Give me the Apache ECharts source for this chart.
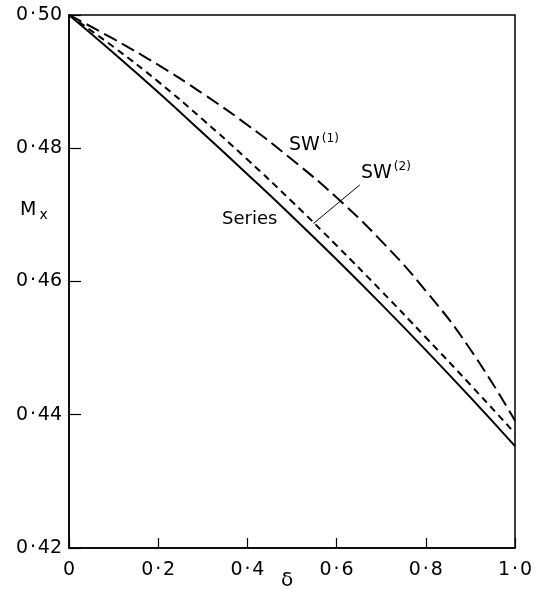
<!DOCTYPE html>
<html>
<head>
<meta charset="utf-8">
<script src="https://cdn.jsdelivr.net/npm/echarts@6/dist/echarts.min.js"></script>
<style>
  html, body { margin: 0; padding: 0; background: #fff; }
  #chart { width: 540px; height: 600px; }
</style>
</head>
<body>
<div id="chart"></div>
<script>
// M_x against delta: series result and the two SW approximations

var deltaValues = [0, 0.1, 0.2, 0.3, 0.4, 0.5, 0.6, 0.7, 0.8, 0.9, 1.0];
var seriesValues = [0.5, 0.4943, 0.4884, 0.4823, 0.4761, 0.4698, 0.4633, 0.4566, 0.4497, 0.4426, 0.4353];
var sw2Values = [0.5, 0.4952, 0.4900, 0.4843, 0.4783, 0.4720, 0.4654, 0.4586, 0.4516, 0.4445, 0.4372];
var sw1Values = [0.5, 0.4964, 0.4925, 0.4882, 0.4835, 0.4783, 0.4726, 0.4661, 0.4586, 0.4498, 0.4391];
var xTicks = [0, 0.2, 0.4, 0.6, 0.8, 1.0];
var yTicks = [0.42, 0.44, 0.46, 0.48, 0.50];

// leader line from the SW(2) curve to its label, in data units
var sw2Leader = [[0.548, 0.4687], [0.652, 0.4745]];

function pairs(xs, ys) {
    return xs.map(function (x, i) { return [x, ys[i]]; });
}

// "0·50" style labels, with a hair of room round the dot
function dotted(s) {
    return s.replace('.', '\u200a\u00b7\u200a');
}

var chart = echarts.init(document.getElementById('chart'));

var font = 'DejaVu Sans';

var option = {
    animation: false,
    grid: {
        left: 69, right: 25, top: 15, bottom: 52,
        show: true,
        borderColor: '#000',
        borderWidth: 1.5
    },
    xAxis: {
        type: 'value',
        min: xTicks[0],
        max: xTicks[xTicks.length - 1],
        interval: 0.2,
        axisLine: { lineStyle: { color: '#000', width: 1.5 } },
        axisTick: { inside: true, length: 10, lineStyle: { color: '#000', width: 1.2 } },
        splitLine: { show: false },
        axisLabel: {
            color: '#000', fontFamily: font, fontSize: 19, margin: 13,
            formatter: function (v) {
                return v === 0 ? '0' : dotted(v.toFixed(1));
            }
        }
    },
    yAxis: {
        type: 'value',
        min: yTicks[0],
        max: yTicks[yTicks.length - 1],
        interval: 0.02,
        axisLine: { lineStyle: { color: '#000', width: 1.5 } },
        axisTick: { inside: true, length: 12, lineStyle: { color: '#000', width: 1.2 } },
        splitLine: { show: false },
        axisLabel: {
            color: '#000', fontFamily: font, fontSize: 19, margin: 7,
            formatter: function (v) {
                return dotted(v.toFixed(2));
            }
        }
    },
    series: [
        {
            name: 'Series',
            type: 'line',
            smooth: true,
            symbol: 'none',
            data: pairs(deltaValues, seriesValues),
            lineStyle: { color: '#000', width: 2 }
        },
        {
            name: 'SW(2)',
            type: 'line',
            smooth: true,
            symbol: 'none',
            data: pairs(deltaValues, sw2Values),
            lineStyle: { color: '#000', width: 2, type: [7, 5] },
            markLine: {
                silent: true,
                symbol: 'none',
                label: { show: false },
                lineStyle: { color: '#000', width: 1, type: 'solid' },
                data: [[{ coord: sw2Leader[0] }, { coord: sw2Leader[1] }]]
            }
        },
        {
            name: 'SW(1)',
            type: 'line',
            smooth: true,
            symbol: 'none',
            data: pairs(deltaValues, sw1Values),
            lineStyle: { color: '#000', width: 2, type: [14, 6] }
        }
    ],
    graphic: [
        {
            type: 'text', left: 20, top: 201,
            style: {
                text: '{m|M}{s|x}',
                rich: {
                    m: { fontFamily: font, fontSize: 19, fill: '#000' },
                    s: { fontFamily: font, fontSize: 14, fill: '#000', verticalAlign: 'bottom', padding: [9, 0, 0, 3] }
                }
            }
        },
        {
            type: 'text', left: 281, top: 571,
            style: { text: '\u03b4', fontFamily: font, fontSize: 20, fill: '#000' }
        },
        {
            type: 'text', left: 222, top: 210,
            style: { text: 'Series', fontFamily: font, fontSize: 18, fill: '#000' }
        },
        {
            type: 'text', left: 289, top: 133,
            style: {
                text: '{a|SW}{b|(1)}',
                rich: {
                    a: { fontFamily: font, fontSize: 19, fill: '#000', padding: [6, 0, 0, 0] },
                    b: { fontFamily: font, fontSize: 12, fill: '#000', padding: [0, 0, 7, 2] }
                }
            }
        },
        {
            type: 'text', left: 361, top: 161,
            style: {
                text: '{a|SW}{b|(2)}',
                rich: {
                    a: { fontFamily: font, fontSize: 19, fill: '#000', padding: [6, 0, 0, 0] },
                    b: { fontFamily: font, fontSize: 12, fill: '#000', padding: [0, 0, 7, 2] }
                }
            }
        }
    ]
};

chart.setOption(option);
</script>
</body>
</html>
